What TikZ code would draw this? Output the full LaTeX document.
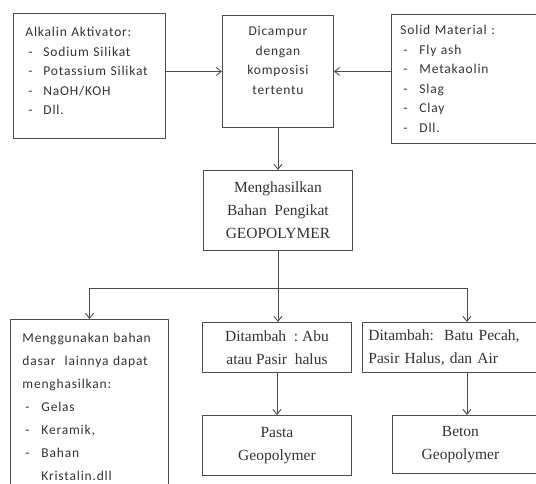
\documentclass[tikz,border=0pt]{standalone}
\usepackage{fontspec}
\setmainfont{Liberation Serif}
\newfontfamily\calfont[LetterSpace=6]{Carlito}
\usetikzlibrary{arrows.meta}
\tikzset{
  kotak/.style={draw=black!70, line width=0.9pt, inner sep=0pt, text=black!80},
  sansbox/.style={kotak, font=\calfont\fontsize{13.5}{19.5}\selectfont},
  serifbox/.style={kotak, font=\fontsize{15.5}{23}\selectfont, align=center},
  garis/.style={draw=black!70, line width=0.9pt},
  panah/.style={garis, -{Straight Barb[length=5pt,width=8pt]}},
}
\newcommand{\butir}[2][15pt]{\hspace*{3pt}\makebox[#1][l]{-}#2}
\begin{document}
\begin{tikzpicture}[x=1pt,y=-1pt]
\useasboundingbox (0,0) rectangle (536,483);
% baris atas
\node[sansbox, anchor=north west, minimum width=152, minimum height=125,
  inner xsep=12pt, text width=128, align=left] (alkali) at (13,13)
  {Alkalin Aktivator:\\ \butir{Sodium Silikat}\\ \butir{Potassium Silikat}\\
   \butir{NaOH/KOH}\\ \butir{Dll.}\\[-9.5pt]\mbox{}};
\node[sansbox, anchor=north west, minimum width=111, minimum height=112,
  align=center] (campur) at (222,15)
  {Dicampur\\ dengan\\ komposisi\\ tertentu\\[3pt]};
\node[sansbox, anchor=north west, minimum width=150, minimum height=129,
  inner xsep=9pt, text width=132, align=left] (solid) at (391,14)
  {Solid Material :\\ \butir[16pt]{Fly ash}\\ \butir[16pt]{Metakaolin}\\
   \butir[16pt]{Slag}\\ \butir[16pt]{Clay}\\ \butir[16pt]{Dll.}};
\node[serifbox, anchor=north west, minimum width=149, minimum height=80] (hasil) at (203,170)
  {Menghasilkan\\ Bahan\ \ Pengikat\\ GEOPOLYMER};
% baris bawah
\node[sansbox, anchor=north west, minimum width=158, minimum height=175,
  inner xsep=12pt, text width=134, align=left,
  font=\calfont\fontsize{13.5}{23}\selectfont] (guna) at (10,319)
  {Menggunakan bahan\\ dasar\ \ lainnya dapat\\ menghasilkan:\\
   \butir[16pt]{Gelas}\\ \butir[16pt]{Keramik,}\\ \butir[16pt]{Bahan}\\
   \hspace*{19pt}Kristalin.dll};
\node[serifbox, anchor=north west, minimum width=149, minimum height=50] (abu) at (202,322)
  {Ditambah\ \ :\ Abu\\ atau Pasir\ \ halus};
\node[serifbox, anchor=north west, minimum width=149, minimum height=60] (pasta) at (202,415)
  {Pasta\\ Geopolymer};
\node[serifbox, anchor=north west, minimum width=180, minimum height=50,
  inner xsep=6pt, text width=168, align=left] (batu) at (362,322)
  {Ditambah:\ \ Batu Pecah,\\ Pasir Halus, dan Air};
\node[serifbox, anchor=north west, minimum width=150, minimum height=58,
  text width=150, align=left] (beton) at (392,415)
  {\makebox[136pt]{Beton}\\ \makebox[136pt]{Geopolymer}};
% penghubung
\coordinate (bagi) at (hasil.south |- 0,288);
\coordinate (kanan) at (467,288);
\draw[panah] (alkali.east |- campur.west) -- (campur.west);
\draw[panah] (solid.west |- campur.east) -- (campur.east);
\draw[panah] (campur.south) -- (hasil.north);
\draw[garis] (hasil.south) -- (bagi);
\draw[garis] (guna.north |- bagi) -- (kanan);
\draw[panah] (guna.north |- bagi) -- (guna.north);
\draw[panah] (bagi) -- (bagi |- abu.north);
\draw[panah] (kanan) -- (kanan |- batu.north);
\draw[panah] (abu.south) -- (pasta.north);
\draw[panah] (kanan |- batu.south) -- (kanan |- beton.north);
\end{tikzpicture}
\end{document}
